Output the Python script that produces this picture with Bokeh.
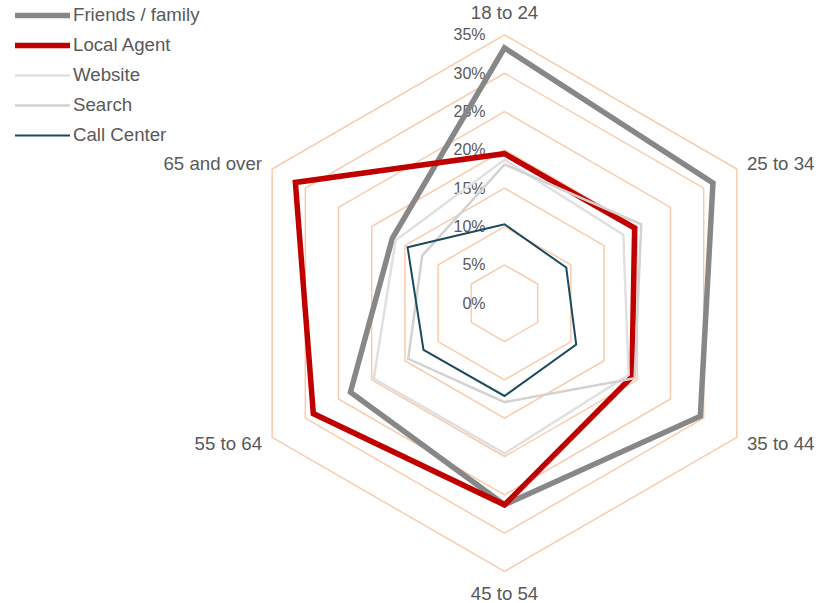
import numpy as np
from bokeh.plotting import figure
from bokeh.models import Range1d, Legend, LegendItem, ColumnDataSource
from bokeh.core.properties import value
from bokeh.embed import file_html
from bokeh.resources import INLINE

# Share of respondents by age group and booking channel (%)
categories = ["18 to 24", "25 to 34", "35 to 44", "45 to 54", "55 to 64", "65 and over"]
friends_family = [33.3, 31.4, 29.5, 26.3, 23.2, 16.9]
local_agent = [19.5, 19.6, 19.2, 26.3, 28.8, 31.5]
website = [18.7, 17.9, 18.7, 19.6, 19.7, 16.4]
search = [18.1, 20.6, 19.6, 12.9, 14.5, 12.4]
call_center = [10.3, 9.3, 10.8, 12.1, 12.2, 14.6]

series_names = ["Friends / family", "Local Agent", "Website", "Search", "Call Center"]
series_values = [friends_family, local_agent, website, search, call_center]
series_colors = ["#878787", "#C00000", "#E0E0E0", "#D2D2D2", "#1B4A5E"]
series_widths = [5.5, 5.5, 2.5, 2.5, 2]

tick_values = [0, 5, 10, 15, 20, 25, 30, 35]
tick_labels = ["0%", "5%", "10%", "15%", "20%", "25%", "30%", "35%"]

W, H = 831, 603
R_MAX = 35.0
R_PX = 268.3                 # outer ring radius in pixels
PX = R_MAX / R_PX            # data units per pixel
CX_PX, CY_PX = 504, 302.7    # chart centre, from top-left

FONT_NAME = "Liberation Sans"
FONT = value(FONT_NAME)
TEXT_COLOR = "#595959"

n = len(categories)
theta = np.arange(n) * 2 * np.pi / n
sin_t, cos_t = np.sin(theta), np.cos(theta)

p = figure(width=W, height=H, output_backend="svg", toolbar_location=None,
           x_range=Range1d(-CX_PX * PX, (W - CX_PX) * PX),
           y_range=Range1d(-(H - CY_PX) * PX, CY_PX * PX),
           min_border=0, outline_line_color=None)
p.axis.visible = False
p.grid.visible = False
p.background_fill_color = "white"
p.border_fill_color = "white"

# hexagonal gridlines
ring_xs, ring_ys = [], []
for t in tick_values[1:]:
    ring_xs.append(list(t * sin_t) + [t * sin_t[0]])
    ring_ys.append(list(t * cos_t) + [t * cos_t[0]])
p.multi_line(ring_xs, ring_ys, line_color="#F8CBAD", line_width=1.5, line_join="miter")

# radial scale labels along the top spoke
p.text(x=[-19 * PX] * len(tick_values), y=tick_values, text=tick_labels,
       text_font=FONT, text_font_size="16px", text_color=TEXT_COLOR,
       text_align="right", text_baseline="middle")

# category labels around the outer ring
lab_r = 280 * PX
aligns, baselines = [], []
for s, c in zip(sin_t, cos_t):
    if s > 0.1:
        aligns.append("left"); baselines.append("middle")
    elif s < -0.1:
        aligns.append("right"); baselines.append("middle")
    else:
        aligns.append("center"); baselines.append("bottom" if c > 0 else "top")
cat_src = ColumnDataSource(dict(x=lab_r * sin_t, y=lab_r * cos_t, text=categories,
                                align=aligns, baseline=baselines))
p.text(x="x", y="y", text="text", source=cat_src, text_align="align",
       text_baseline="baseline", text_font=FONT, text_font_size="18.67px",
       text_color=TEXT_COLOR)

# series outlines; the path starts and ends mid-edge so every vertex gets a clean join
items = []
for name, vals, col, lw in zip(series_names, series_values, series_colors, series_widths):
    v = np.asarray(vals, dtype=float)
    xs = v * sin_t
    ys = v * cos_t
    mx, my = (xs[-1] + xs[0]) / 2, (ys[-1] + ys[0]) / 2
    px = [mx] + list(xs) + [mx]
    py = [my] + list(ys) + [my]
    r = p.line(px, py, line_color=col, line_width=lw, line_join="miter", line_cap="round")
    items.append(LegendItem(label=name, renderers=[r]))

legend = Legend(items=items, location=(15, H - 146), orientation="vertical",
                glyph_width=55, glyph_height=20, label_height=20, spacing=8,
                padding=0, margin=0, label_standoff=3,
                label_text_font=FONT_NAME, label_text_font_size="18.67px",
                label_text_color=TEXT_COLOR,
                border_line_alpha=0, background_fill_alpha=0)
p.add_layout(legend)

open("out.html", "w").write(file_html(p, INLINE))
